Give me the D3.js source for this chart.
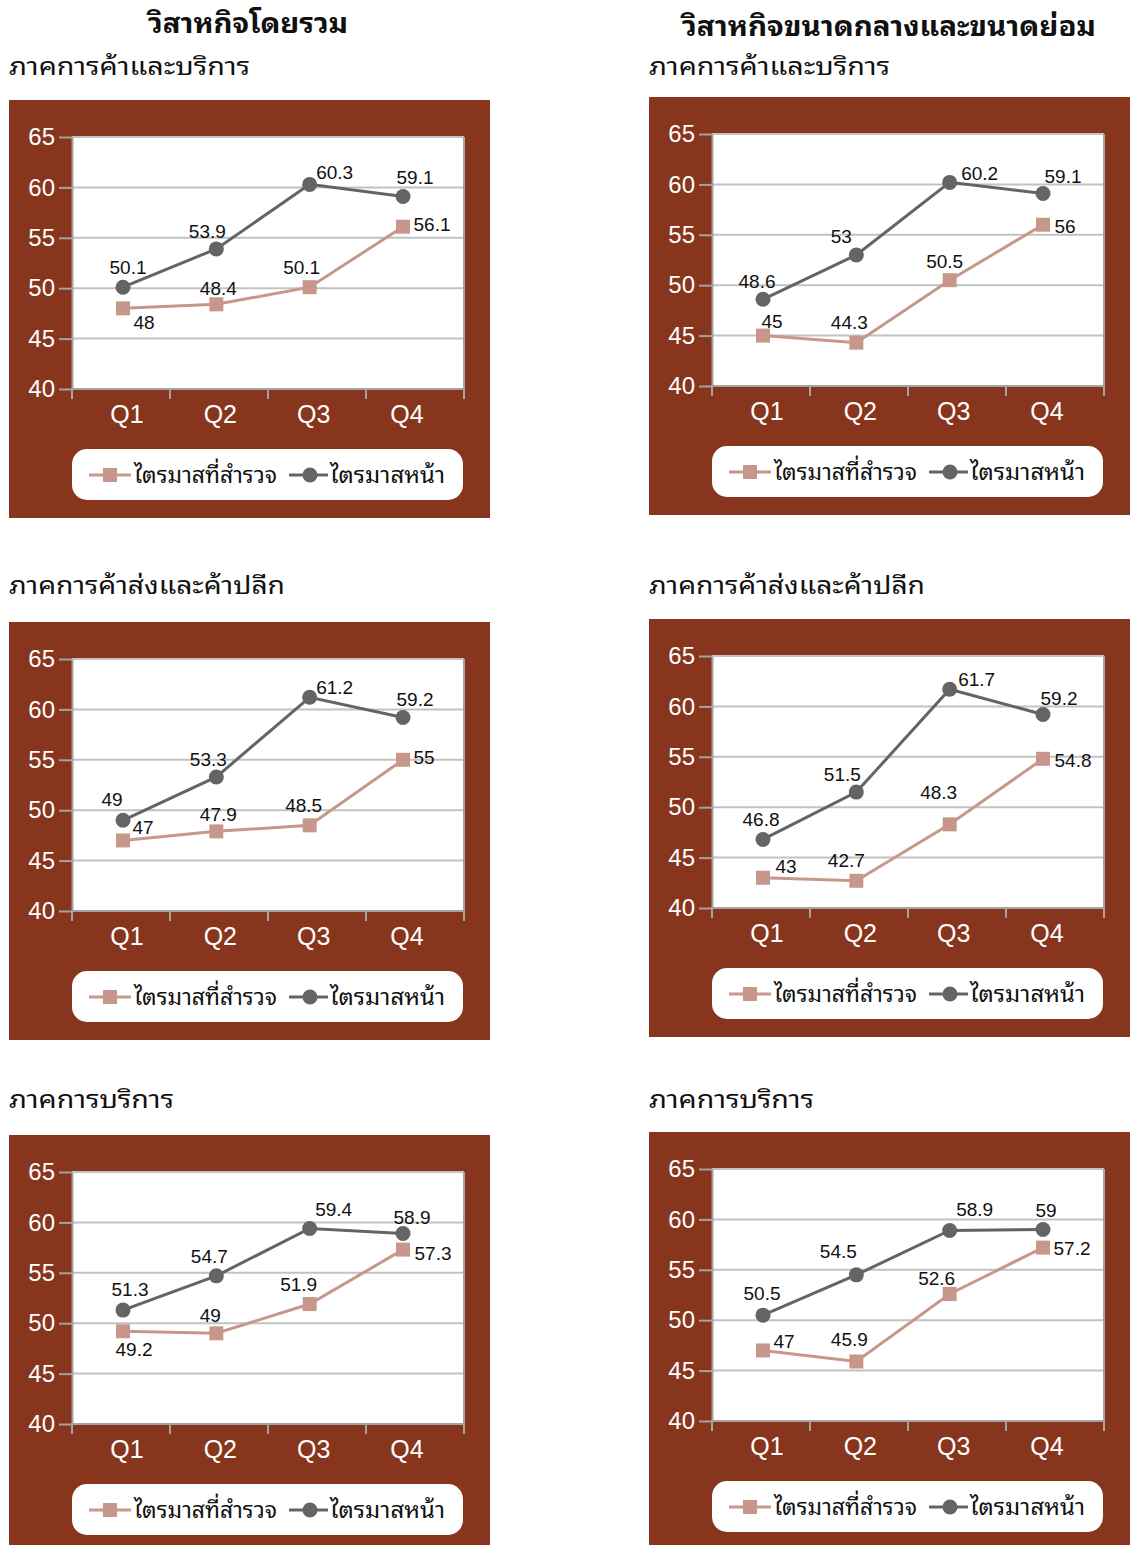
<!DOCTYPE html>
<html><head><meta charset="utf-8">
<script src="https://cdn.jsdelivr.net/npm/d3@7"></script>
<style>body{margin:0;background:#fff;} svg{display:block}</style>
</head><body><svg id="chart" width="1130" height="1545"></svg>
<script>
// ---------- data ----------
const quarters = ["Q1", "Q2", "Q3", "Q4"];
const yTicks = [40, 45, 50, 55, 60, 65];
const seriesNames = ["ไตรมาสที่สำรวจ", "ไตรมาสหน้า"];
const columnTitles = ["วิสาหกิจโดยรวม", "วิสาหกิจขนาดกลางและขนาดย่อม"];
const sectorTitles = ["ภาคการค้าและบริการ", "ภาคการค้าส่งและค้าปลีก", "ภาคการบริการ"];

// วิสาหกิจโดยรวม
const allTradeServiceSurvey = [48, 48.4, 50.1, 56.1];
const allTradeServiceNext = [50.1, 53.9, 60.3, 59.1];
const allWholesaleRetailSurvey = [47, 47.9, 48.5, 55];
const allWholesaleRetailNext = [49, 53.3, 61.2, 59.2];
const allServiceSurvey = [49.2, 49, 51.9, 57.3];
const allServiceNext = [51.3, 54.7, 59.4, 58.9];
// วิสาหกิจขนาดกลางและขนาดย่อม
const smeTradeServiceSurvey = [45, 44.3, 50.5, 56];
const smeTradeServiceNext = [48.6, 53, 60.2, 59.1];
const smeWholesaleRetailSurvey = [43, 42.7, 48.3, 54.8];
const smeWholesaleRetailNext = [46.8, 51.5, 61.7, 59.2];
const smeServiceSurvey = [47, 45.9, 52.6, 57.2];
const smeServiceNext = [50.5, 54.5, 58.9, 59];

// ---------- styling / layout ----------
const BROWN = "#88351d";
const SURVEY_C = "#c8978b";
const NEXT_C = "#646464";
const GRID_C = "#c2c2c2";
const AXIS_C = "#a3a3a3";
const THAI = "'Noto Sans Thai Looped','Loma','Garuda','Tlwg Typo','Kinnari','Norasi','Waree','Tahoma','Noto Sans Thai','Noto Sans Thai UI','Noto Sans',sans-serif";
const LATIN = "'Liberation Sans',Arial,sans-serif";

// rendered widths of the Thai texts in the reference
const subWidths = [241, 276, 165];
const legendWidths = [143, 115];

// data-label offsets (dx, dy of label centre from point)
const panels = [
  {x0: 9, top: 100, sub: 0, survey: allTradeServiceSurvey, next: allTradeServiceNext,
   offS: [[21,14],[2,-16],[-8,-20],[29,-2]], offN: [[5,-20],[-9,-18],[25,-12],[12,-19]]},
  {x0: 649, top: 97, sub: 0, survey: smeTradeServiceSurvey, next: smeTradeServiceNext,
   offS: [[9,-14],[-7,-20],[-5,-19],[22,2]], offN: [[-6,-18],[-15,-19],[30,-9],[20,-17]]},
  {x0: 9, top: 622, sub: 1, survey: allWholesaleRetailSurvey, next: allWholesaleRetailNext,
   offS: [[20,-13],[2,-17],[-6,-20],[21,-2]], offN: [[-11,-21],[-8,-18],[25,-10],[12,-18]]},
  {x0: 649, top: 619, sub: 1, survey: smeWholesaleRetailSurvey, next: smeWholesaleRetailNext,
   offS: [[23,-11],[-10,-20],[-11,-32],[30,2]], offN: [[-2,-20],[-14,-18],[27,-10],[16,-16]]},
  {x0: 9, top: 1135, sub: 2, survey: allServiceSurvey, next: allServiceNext,
   offS: [[11,18],[-6,-18],[-11,-20],[30,4]], offN: [[7,-21],[-7,-19],[24,-19],[9,-16]]},
  {x0: 649, top: 1132, sub: 2, survey: smeServiceSurvey, next: smeServiceNext,
   offS: [[21,-9],[-7,-22],[-13,-16],[29,1]], offN: [[-1,-22],[-18,-23],[25,-21],[3,-19]]}
];
const subBaselines = [75, 594, 1108];

const svg = d3.select("#chart");

// column titles
svg.append("text").attr("x", 148).attr("y", 33)
  .attr("textLength", 200).attr("lengthAdjust", "spacingAndGlyphs")
  .style("font-family", THAI).style("font-size", "27px").style("font-weight", "bold")
  .attr("fill", "#111").text(columnTitles[0]);
svg.append("text").attr("x", 682).attr("y", 36)
  .attr("textLength", 414).attr("lengthAdjust", "spacingAndGlyphs")
  .style("font-family", THAI).style("font-size", "27px").style("font-weight", "bold")
  .attr("fill", "#111").text(columnTitles[1]);

panels.forEach(p => {
  const g = svg.append("g");
  const x0 = p.x0, top = p.top;
  // sector subtitle
  g.append("text").attr("x", x0).attr("y", subBaselines[p.sub])
    .attr("textLength", subWidths[p.sub]).attr("lengthAdjust", "spacingAndGlyphs")
    .style("font-family", THAI).style("font-size", "25px").attr("fill", "#111")
    .text(sectorTitles[p.sub]);

  // brown panel
  g.append("rect").attr("x", x0).attr("y", top).attr("width", 481).attr("height", 418).attr("fill", BROWN);

  const pl = x0 + 63, pr = x0 + 455;
  const y = d3.scaleLinear().domain([40, 65]).range([top + 289, top + 37]);
  const x = d3.scalePoint().domain(quarters).range([pl + 51, pl + 331]);
  const xb = d3.scaleBand().domain(quarters).range([pl, pr]);

  // plot background
  g.append("rect").attr("x", pl).attr("y", y(65)).attr("width", pr - pl)
    .attr("height", y(40) - y(65)).attr("fill", "#fff");

  // gridlines
  g.selectAll(".grid").data(yTicks.filter(t => t > 40)).enter().append("line")
    .attr("x1", pl).attr("x2", pr).attr("y1", d => y(d)).attr("y2", d => y(d))
    .attr("stroke", GRID_C).attr("stroke-width", 2);
  // right border
  g.append("line").attr("x1", pr).attr("x2", pr).attr("y1", y(65)).attr("y2", y(40) + 10)
    .attr("stroke", AXIS_C).attr("stroke-width", 2);

  // y axis
  const ya = g.append("g").attr("transform", `translate(${pl},0)`)
    .call(d3.axisLeft(y).tickValues(yTicks).tickSize(13).tickSizeOuter(0).tickPadding(4).tickFormat(d3.format("d")));
  ya.select(".domain").attr("stroke", AXIS_C).attr("stroke-width", 2);
  ya.selectAll(".tick line").attr("stroke", AXIS_C).attr("stroke-width", 2);
  ya.selectAll(".tick text").attr("fill", "#fff").style("font-family", LATIN).style("font-size", "24px");

  // x axis line + boundary ticks
  g.append("line").attr("x1", pl - 1).attr("x2", pr + 1).attr("y1", y(40)).attr("y2", y(40))
    .attr("stroke", AXIS_C).attr("stroke-width", 2);
  const bounds = [pl].concat(quarters.map(q => xb(q) + xb.bandwidth()));
  g.selectAll(".xt").data(bounds).enter().append("line")
    .attr("x1", d => d).attr("x2", d => d).attr("y1", y(40)).attr("y2", y(40) + 10)
    .attr("stroke", AXIS_C).attr("stroke-width", 2);
  g.selectAll(".xl").data(quarters).enter().append("text")
    .attr("x", d => x(d) + 4).attr("y", top + 314).attr("dy", "0.35em")
    .attr("text-anchor", "middle").attr("fill", "#fff")
    .style("font-family", LATIN).style("font-size", "25px").text(d => d);

  const line = d3.line().x((d, i) => x(quarters[i])).y(d => y(d));

  // survey series
  g.append("path").datum(p.survey).attr("d", line).attr("fill", "none")
    .attr("stroke", SURVEY_C).attr("stroke-width", 3);
  g.selectAll(".sq").data(p.survey).enter().append("rect")
    .attr("x", (d, i) => x(quarters[i]) - 7).attr("y", d => y(d) - 7)
    .attr("width", 14).attr("height", 14).attr("fill", SURVEY_C);

  // next-quarter series
  g.append("path").datum(p.next).attr("d", line).attr("fill", "none")
    .attr("stroke", NEXT_C).attr("stroke-width", 3);
  g.selectAll(".ci").data(p.next).enter().append("circle")
    .attr("cx", (d, i) => x(quarters[i])).attr("cy", d => y(d)).attr("r", 7.5).attr("fill", NEXT_C);

  // data labels
  const lab = (vals, offs) => g.selectAll(null).data(vals).enter().append("text")
    .attr("x", (d, i) => x(quarters[i]) + offs[i][0])
    .attr("y", (d, i) => y(d) + offs[i][1]).attr("dy", "0.35em")
    .attr("text-anchor", "middle").attr("fill", "#111")
    .style("font-family", LATIN).style("font-size", "19px").text(d => d);
  lab(p.survey, p.offS);
  lab(p.next, p.offN);

  // legend
  const ly = top + 375;
  g.append("rect").attr("x", pl).attr("y", top + 349).attr("width", 391).attr("height", 51)
    .attr("rx", 15).attr("fill", "#fff");
  g.append("line").attr("x1", x0 + 80).attr("x2", x0 + 122).attr("y1", ly).attr("y2", ly)
    .attr("stroke", SURVEY_C).attr("stroke-width", 3);
  g.append("rect").attr("x", x0 + 94).attr("y", ly - 7).attr("width", 14).attr("height", 14).attr("fill", SURVEY_C);
  g.append("text").attr("x", x0 + 125).attr("y", ly).attr("dy", "0.35em")
    .attr("textLength", legendWidths[0]).attr("lengthAdjust", "spacingAndGlyphs")
    .style("font-family", THAI).style("font-size", "23px").attr("fill", "#111").text(seriesNames[0]);
  g.append("line").attr("x1", x0 + 280).attr("x2", x0 + 319).attr("y1", ly).attr("y2", ly)
    .attr("stroke", NEXT_C).attr("stroke-width", 3);
  g.append("circle").attr("cx", x0 + 301).attr("cy", ly).attr("r", 7.5).attr("fill", NEXT_C);
  g.append("text").attr("x", x0 + 321).attr("y", ly).attr("dy", "0.35em")
    .attr("textLength", legendWidths[1]).attr("lengthAdjust", "spacingAndGlyphs")
    .style("font-family", THAI).style("font-size", "23px").attr("fill", "#111").text(seriesNames[1]);
});
</script>
</body></html>
